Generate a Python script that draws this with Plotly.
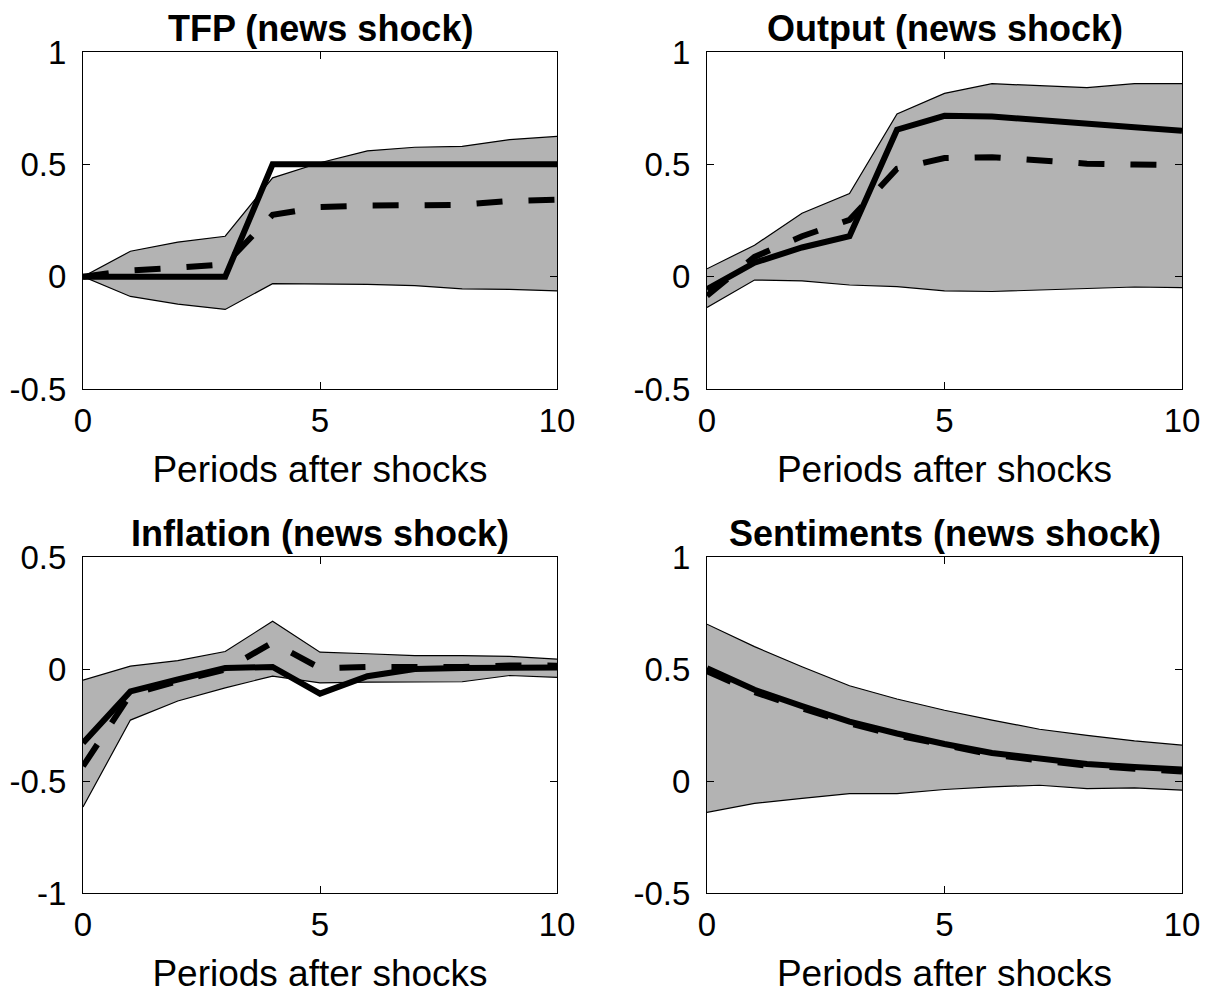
import plotly.graph_objects as go

periods = list(range(11))

# TFP
tfp_solid = [0, 0, 0, 0, 0.5, 0.5, 0.5, 0.5, 0.5, 0.5, 0.5]
tfp_dash = [0, 0.028, 0.04, 0.055, 0.275, 0.31, 0.316, 0.318, 0.32, 0.337, 0.343]
tfp_up = [0, 0.113, 0.154, 0.18, 0.44, 0.507, 0.56, 0.576, 0.58, 0.61, 0.624]
tfp_lo = [0, -0.088, -0.122, -0.146, -0.031, -0.032, -0.034, -0.04, -0.054, -0.057, -0.063]

# Output
out_solid = [-0.056, 0.062, 0.13, 0.18, 0.654, 0.716, 0.713, 0.699, 0.681, 0.665, 0.649]
out_dash = [-0.085, 0.088, 0.18, 0.253, 0.48, 0.528, 0.532, 0.518, 0.503, 0.499, 0.496]
out_up = [0.035, 0.14, 0.282, 0.37, 0.724, 0.816, 0.859, 0.851, 0.841, 0.859, 0.859]
out_lo = [-0.137, -0.015, -0.019, -0.037, -0.044, -0.063, -0.066, -0.06, -0.054, -0.046, -0.049]

# Inflation
inf_solid = [-0.33, -0.10, -0.047, 0.004, 0.009, -0.11, -0.032, 0.0, 0.004, 0.007, 0.007]
inf_dash = [-0.434, -0.113, -0.054, -0.003, 0.118, 0.004, 0.009, 0.007, 0.009, 0.016, 0.015]
inf_up = [-0.05, 0.013, 0.037, 0.078, 0.213, 0.075, 0.068, 0.06, 0.06, 0.056, 0.044]
inf_lo = [-0.616, -0.228, -0.143, -0.084, -0.032, -0.062, -0.059, -0.057, -0.057, -0.029, -0.037]

# Sentiments
sen_solid = [0.503, 0.407, 0.334, 0.265, 0.212, 0.165, 0.125, 0.099, 0.076, 0.062, 0.051]
sen_dash = [0.49, 0.397, 0.325, 0.257, 0.204, 0.158, 0.118, 0.092, 0.069, 0.055, 0.042]
sen_up = [0.70, 0.60, 0.51, 0.425, 0.366, 0.316, 0.272, 0.231, 0.204, 0.179, 0.16]
sen_lo = [-0.14, -0.10, -0.078, -0.056, -0.056, -0.038, -0.026, -0.019, -0.034, -0.031, -0.041]

titles = ["TFP (news shock)", "Output (news shock)", "Inflation (news shock)", "Sentiments (news shock)"]
xlabel = "Periods after shocks"
x_ticks = [0, 5, 10]
x_ticktext = ["0", "5", "10"]
y_ticks_a = [-0.5, 0, 0.5, 1]
y_ticktext_a = ["-0.5", "0", "0.5", "1"]
y_ticks_b = [-1, -0.5, 0, 0.5]
y_ticktext_b = ["-1", "-0.5", "0", "0.5"]

panels = [
    (tfp_solid, tfp_dash, tfp_up, tfp_lo, y_ticks_a, y_ticktext_a),
    (out_solid, out_dash, out_up, out_lo, y_ticks_a, y_ticktext_a),
    (inf_solid, inf_dash, inf_up, inf_lo, y_ticks_b, y_ticktext_b),
    (sen_solid, sen_dash, sen_up, sen_lo, y_ticks_a, y_ticktext_a),
]

W, H = 1213, 1000
OFF = 8  # page body margin
ML, MT = 83 - OFF, 52 - OFF
MR, MB = W - (1182 - OFF), H - (893 - OFF)
PW, PH = W - ML - MR, H - MT - MB
xdoms = [[0, (557 - OFF - ML) / PW], [(707 - OFF - ML) / PW, 1.0]]
ydoms = [[1 - (389 - OFF - MT) / PH, 1.0], [0.0, 1 - (557 - OFF - MT) / PH]]

FONT = "Liberation Sans, Arial, Helvetica, sans-serif"
fig = go.Figure()
layout = {}
annotations = []
for i, (sol, das, up, lo, yt, ytt) in enumerate(panels):
    r, c = divmod(i, 2)
    ax = "" if i == 0 else str(i + 1)
    xa, ya = "x" + ax, "y" + ax
    fig.add_trace(go.Scatter(x=periods, y=lo, mode="lines", line=dict(color="black", width=1.2),
                             xaxis=xa, yaxis=ya, showlegend=False, hoverinfo="skip"))
    fig.add_trace(go.Scatter(x=periods, y=up, mode="lines", line=dict(color="black", width=1.2),
                             fill="tonexty", fillcolor="#b3b3b3",
                             xaxis=xa, yaxis=ya, showlegend=False, hoverinfo="skip"))
    fig.add_trace(go.Scatter(x=periods, y=sol, mode="lines", line=dict(color="black", width=6),
                             xaxis=xa, yaxis=ya, showlegend=False))
    fig.add_trace(go.Scatter(x=periods, y=das, mode="lines",
                             line=dict(color="black", width=6, dash="26px,26px"),
                             xaxis=xa, yaxis=ya, showlegend=False))
    common = dict(showline=True, mirror="ticks", linecolor="black", linewidth=1,
                  ticks="inside", ticklen=7, tickcolor="black", tickwidth=1,
                  showgrid=False, zeroline=False, automargin=False,
                  tickfont=dict(family=FONT, size=33, color="black"))
    layout["xaxis" + ax] = dict(domain=xdoms[c], anchor=ya, range=[0, 10],
                                tickvals=x_ticks, ticktext=x_ticktext,
                                title=dict(text=xlabel, font=dict(family=FONT, size=37, color="black"), standoff=18),
                                ticklabelstandoff=2, **common)
    layout["yaxis" + ax] = dict(domain=ydoms[r], anchor=xa, range=[yt[0], yt[-1]],
                                tickvals=yt, ticktext=ytt, ticklabelstandoff=9, **common)
    annotations.append(dict(text="<b>" + titles[i] + "</b>", xref="paper", yref="paper",
                            x=(xdoms[c][0] + xdoms[c][1]) / 2, y=ydoms[r][1],
                            xanchor="center", yanchor="bottom", yshift=1, showarrow=False,
                            font=dict(family=FONT, size=36, color="black")))

fig.update_layout(width=W, height=H, margin=dict(l=ML, r=MR, t=MT, b=MB, autoexpand=False),
                  plot_bgcolor="white", paper_bgcolor="white",
                  annotations=annotations, **layout)
fig.write_html("out.html")
